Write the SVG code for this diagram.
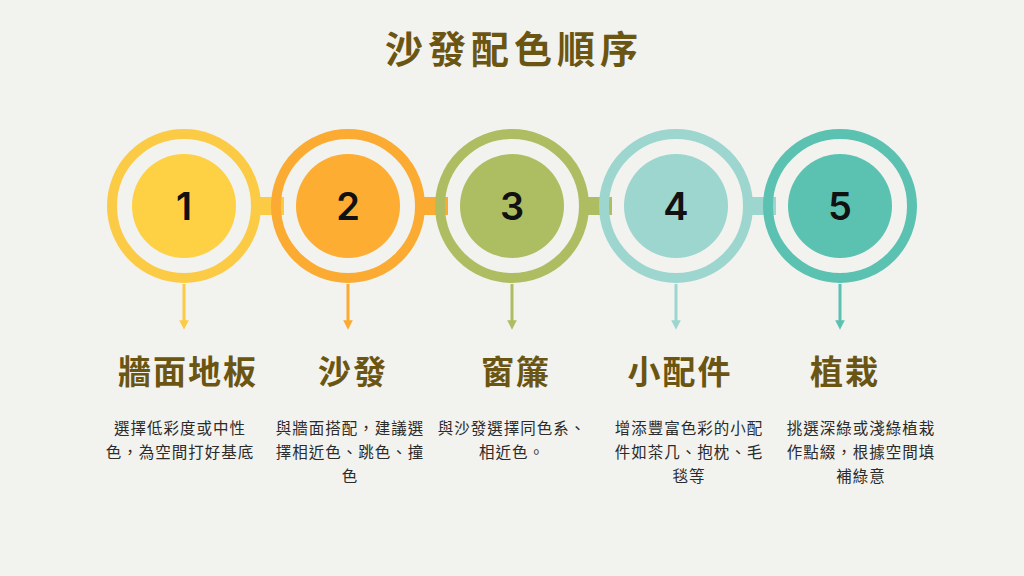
<svg xmlns="http://www.w3.org/2000/svg" width="1024" height="576" viewBox="0 0 1024 576">
<defs>
<style>
.ring{fill:none;stroke-width:10}
.num{font-family:"Inter","Liberation Sans",sans-serif;font-weight:600;font-size:38px;fill:#111;text-anchor:middle}
.title{font-family:"Noto Sans CJK TC","Noto Sans CJK SC",sans-serif;font-weight:700;font-size:38px;fill:#6b5513;text-anchor:middle;letter-spacing:5px}
.label{font-family:"Noto Sans CJK TC","Noto Sans CJK SC",sans-serif;font-weight:700;font-size:33px;fill:#6b5513;text-anchor:middle;letter-spacing:2px}
.desc{font-family:"Noto Sans CJK TC","Noto Sans CJK SC",sans-serif;font-size:15.5px;fill:#2b2b2b;text-anchor:middle;letter-spacing:1px}
.arrow{stroke-width:3}
</style>
<marker id="ah1" viewBox="0 0 10 10" refX="5" refY="5" markerWidth="3.2" markerHeight="3.2" orient="auto"><path d="M0,0L10,5L0,10z" fill="#fccb45"/></marker>
<marker id="ah2" viewBox="0 0 10 10" refX="5" refY="5" markerWidth="3.2" markerHeight="3.2" orient="auto"><path d="M0,0L10,5L0,10z" fill="#fbab31"/></marker>
<marker id="ah3" viewBox="0 0 10 10" refX="5" refY="5" markerWidth="3.2" markerHeight="3.2" orient="auto"><path d="M0,0L10,5L0,10z" fill="#aebd62"/></marker>
<marker id="ah4" viewBox="0 0 10 10" refX="5" refY="5" markerWidth="3.2" markerHeight="3.2" orient="auto"><path d="M0,0L10,5L0,10z" fill="#9cd6cf"/></marker>
<marker id="ah5" viewBox="0 0 10 10" refX="5" refY="5" markerWidth="3.2" markerHeight="3.2" orient="auto"><path d="M0,0L10,5L0,10z" fill="#5bc2b1"/></marker>
</defs>
<rect width="1024" height="576" fill="#f2f2ee"/>
<text class="title" x="514" y="63">沙發配色順序</text>
<g id="connectors">
<rect x="252" y="197" width="32" height="18" fill="#fccb45"/>
<rect x="416" y="197" width="32" height="18" fill="#fbab31"/>
<rect x="580" y="197" width="32" height="18" fill="#aebd62"/>
<rect x="744" y="197" width="32" height="18" fill="#9cd6cf"/>
<line class="arrow" x1="184" y1="284" x2="184" y2="325" stroke="#fccb45" marker-end="url(#ah1)"/>
<line class="arrow" x1="348" y1="284" x2="348" y2="325" stroke="#fbab31" marker-end="url(#ah2)"/>
<line class="arrow" x1="512" y1="284" x2="512" y2="325" stroke="#aebd62" marker-end="url(#ah3)"/>
<line class="arrow" x1="676" y1="284" x2="676" y2="325" stroke="#9cd6cf" marker-end="url(#ah4)"/>
<line class="arrow" x1="840" y1="284" x2="840" y2="325" stroke="#5bc2b1" marker-end="url(#ah5)"/>
</g>
<g id="node1">
<circle class="ring" cx="184" cy="206" r="72" stroke="#fccb45"/>
<circle cx="184" cy="206" r="52" fill="#fed044"/>
<text class="num" x="184" y="220">1</text>
<text class="label" x="188" y="384">牆面地板</text>
<text class="desc" x="180" y="434">選擇低彩度或中性</text>
<text class="desc" x="180" y="458">色，為空間打好基底</text>
</g>
<g id="node2">
<circle class="ring" cx="348" cy="206" r="72" stroke="#fbab31"/>
<circle cx="348" cy="206" r="52" fill="#fcad32"/>
<text class="num" x="348" y="220">2</text>
<text class="label" x="353" y="384">沙發</text>
<text class="desc" x="350" y="434">與牆面搭配，建議選</text>
<text class="desc" x="350" y="458">擇相近色、跳色、撞</text>
<text class="desc" x="350" y="482">色</text>
</g>
<g id="node3">
<circle class="ring" cx="512" cy="206" r="72" stroke="#aebd62"/>
<circle cx="512" cy="206" r="52" fill="#adbe62"/>
<text class="num" x="512" y="220">3</text>
<text class="label" x="516" y="384">窗簾</text>
<text class="desc" x="512" y="434">與沙發選擇同色系、</text>
<text class="desc" x="512" y="458">相近色。</text>
</g>
<g id="node4">
<circle class="ring" cx="676" cy="206" r="72" stroke="#9cd6cf"/>
<circle cx="676" cy="206" r="52" fill="#9cd6cf"/>
<text class="num" x="676" y="220">4</text>
<text class="label" x="680" y="384">小配件</text>
<text class="desc" x="689" y="434">增添豐富色彩的小配</text>
<text class="desc" x="689" y="458">件如茶几、抱枕、毛</text>
<text class="desc" x="689" y="482">毯等</text>
</g>
<g id="node5">
<circle class="ring" cx="840" cy="206" r="72" stroke="#5bc2b1"/>
<circle cx="840" cy="206" r="52" fill="#5bc2b1"/>
<text class="num" x="840" y="220">5</text>
<text class="label" x="845" y="384">植栽</text>
<text class="desc" x="861" y="434">挑選深綠或淺綠植栽</text>
<text class="desc" x="861" y="458">作點綴，根據空間填</text>
<text class="desc" x="861" y="482">補綠意</text>
</g>
</svg>
